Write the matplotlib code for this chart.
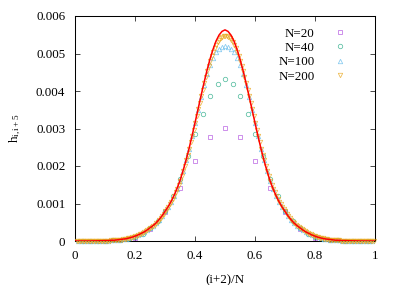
import numpy as np
import matplotlib
matplotlib.use("Agg")
import matplotlib.pyplot as plt

plt.rcParams['font.family'] = ['Liberation Serif', 'DejaVu Serif']
plt.rcParams['mathtext.fontset'] = 'custom'
plt.rcParams['mathtext.rm'] = 'Liberation Serif'
plt.rcParams['mathtext.it'] = 'Liberation Serif:italic'
plt.rcParams['mathtext.default'] = 'regular'

# ---- data ----
labels = ["N=20", "N=40", "N=100", "N=200"]
sizes = [20, 40, 100, 200]

h_n20 = [0.0, 0.00001, 0.00003, 0.00009, 0.00033, 0.00077, 0.00141, 0.00213, 0.00277, 0.00301,
         0.00277, 0.00213, 0.00141, 0.00077, 0.00033, 0.00009, 0.00003, 0.00001, 0.0]

h_n40 = [0.0, 0.0, 0.000005, 0.00001, 0.00002, 0.00003, 0.00006, 0.00011, 0.00020, 0.00034,
         0.00053, 0.00081, 0.00120, 0.00166, 0.00228, 0.00285, 0.00339, 0.00387, 0.00420, 0.00431,
         0.00420, 0.00387, 0.00339, 0.00285, 0.00228, 0.00166, 0.00120, 0.00081, 0.00053, 0.00034,
         0.00020, 0.00011, 0.00006, 0.00003, 0.00002, 0.00001, 0.000005, 0.0, 0.0]

h_n100 = [0, 0, 0, 0, 0, 0, 0, 0,
          0.00001, 0.00001, 0.00001, 0.00002, 0.00002, 0.00003, 0.00004, 0.00005, 0.00006, 0.00008,
          0.00010, 0.00013, 0.00016, 0.00020, 0.00024, 0.00029, 0.00035, 0.00041, 0.00048, 0.00057,
          0.00067, 0.00079, 0.00091, 0.00105, 0.00121, 0.00140, 0.00161, 0.00187, 0.00215, 0.00246,
          0.00280, 0.00314, 0.00349, 0.00384, 0.00416, 0.00445, 0.00470, 0.00489, 0.00503, 0.00512,
          0.00518, 0.00520,
          0.00518, 0.00512, 0.00503, 0.00489, 0.00470, 0.00445, 0.00416, 0.00384, 0.00349, 0.00314,
          0.00280, 0.00246, 0.00215, 0.00187, 0.00161, 0.00140, 0.00121, 0.00105, 0.00091, 0.00079,
          0.00067, 0.00057, 0.00048, 0.00041, 0.00035, 0.00029, 0.00024, 0.00020, 0.00016, 0.00013,
          0.00010, 0.00008, 0.00006, 0.00005, 0.00004, 0.00003, 0.00002, 0.00002, 0.00001, 0.00001,
          0.00001, 0, 0, 0, 0, 0, 0, 0, 0]

h_n200 = [0, 0, 0, 0, 0, 0, 0, 0, 0, 0, 0, 0, 0, 0, 0, 0, 0, 0, 0,
          0.00001, 0.00001, 0.00001, 0.00001, 0.00002, 0.00002, 0.00002, 0.00002, 0.00003, 0.00003,
          0.00004, 0.00004, 0.00005, 0.00005, 0.00006, 0.00007, 0.00008, 0.00009, 0.00010, 0.00011,
          0.00013, 0.00014, 0.00016, 0.00018, 0.00020, 0.00022, 0.00024, 0.00026, 0.00029, 0.00032,
          0.00035, 0.00038, 0.00041, 0.00044, 0.00048, 0.00052, 0.00057, 0.00062, 0.00067, 0.00073,
          0.00079, 0.00085, 0.00091, 0.00098, 0.00105, 0.00113, 0.00121, 0.00130, 0.00140, 0.00150,
          0.00161, 0.00174, 0.00187, 0.00201, 0.00215, 0.00230, 0.00246, 0.00263, 0.00280, 0.00297,
          0.00315, 0.00333, 0.00351, 0.00369, 0.00387, 0.00404, 0.00421, 0.00437, 0.00453, 0.00468,
          0.00481, 0.00494, 0.00504, 0.00515, 0.00523, 0.00531, 0.00536, 0.00541, 0.00544, 0.00546,
          0.00547,
          0.00546, 0.00544, 0.00541, 0.00536, 0.00531, 0.00523, 0.00515, 0.00504, 0.00494, 0.00481,
          0.00468, 0.00453, 0.00437, 0.00421, 0.00404, 0.00387, 0.00369, 0.00351, 0.00333, 0.00315,
          0.00297, 0.00280, 0.00263, 0.00246, 0.00230, 0.00215, 0.00201, 0.00187, 0.00174, 0.00161,
          0.00150, 0.00140, 0.00130, 0.00121, 0.00113, 0.00105, 0.00098, 0.00091, 0.00085, 0.00079,
          0.00073, 0.00067, 0.00062, 0.00057, 0.00052, 0.00048, 0.00044, 0.00041, 0.00038, 0.00035,
          0.00032, 0.00029, 0.00026, 0.00024, 0.00022, 0.00020, 0.00018, 0.00016, 0.00014, 0.00013,
          0.00011, 0.00010, 0.00009, 0.00008, 0.00007, 0.00006, 0.00005, 0.00005, 0.00004, 0.00004,
          0.00003, 0.00003, 0.00002, 0.00002, 0.00002, 0.00002, 0.00001, 0.00001, 0.00001, 0.00001,
          0, 0, 0, 0, 0, 0, 0, 0, 0, 0, 0, 0, 0, 0, 0, 0, 0, 0, 0]

# limiting curve (red line), sampled at x = 0.00, 0.01, ..., 1.00
limit_x = [round(0.01 * k, 2) for k in range(101)]
limit_h = [0, 0, 0, 0, 0, 0, 0.000003, 0.000004, 0.000006, 0.000008,
           0.00001, 0.00001, 0.00002, 0.00002, 0.00003, 0.00004, 0.00005, 0.00006, 0.00008, 0.00010,
           0.00013, 0.00016, 0.00020, 0.00024, 0.00029, 0.00035, 0.00041, 0.00048, 0.00057, 0.00067,
           0.00079, 0.00091, 0.00105, 0.00121, 0.00140, 0.00161, 0.00187, 0.00215, 0.00246, 0.00280,
           0.00315, 0.00351, 0.00387, 0.00422, 0.00455, 0.00485, 0.00511, 0.00533, 0.00549, 0.00559,
           0.00563,
           0.00559, 0.00549, 0.00533, 0.00511, 0.00485, 0.00455, 0.00422, 0.00387, 0.00351, 0.00315,
           0.00280, 0.00246, 0.00215, 0.00187, 0.00161, 0.00140, 0.00121, 0.00105, 0.00091, 0.00079,
           0.00067, 0.00057, 0.00048, 0.00041, 0.00035, 0.00029, 0.00024, 0.00020, 0.00016, 0.00013,
           0.00010, 0.00008, 0.00006, 0.00005, 0.00004, 0.00003, 0.00002, 0.00002, 0.00001, 0.00001,
           0.000008, 0.000006, 0.000004, 0.000003, 0, 0, 0, 0, 0, 0]

xticks = [0, 0.2, 0.4, 0.6, 0.8, 1]
xtick_labels = ["0", "0.2", "0.4", "0.6", "0.8", "1"]
yticks = [0, 0.001, 0.002, 0.003, 0.004, 0.005, 0.006]
ytick_labels = ["0", "0.001", "0.002", "0.003", "0.004", "0.005", "0.006"]

series = [h_n20, h_n40, h_n100, h_n200]
colors = ["#b04ee0", "#2fae8a", "#68bdec", "#eaa820"]
markers = ["s", "o", "^", "v"]

FS = 9.4

fig = plt.figure(figsize=(4.07, 2.85), dpi=100)
ax = fig.add_axes([75 / 407, 44 / 285, 300 / 407, 225 / 285])

for n, h, c, m, lab in zip(sizes, series, colors, markers, labels):
    x = [(k + 1) / n for k in range(len(h))]
    ax.plot(x, h, linestyle="none", marker=m, markersize=3.2, markerfacecolor="none",
            markeredgecolor=c, markeredgewidth=0.55, alpha=0.8, label=lab, clip_on=False, zorder=3)

ax.plot(limit_x, limit_h, color="#ff0000", linewidth=1.1, zorder=4)

ax.set_xlim(0, 1)
ax.set_ylim(0, 0.006)
ax.set_xticks(xticks)
ax.set_xticklabels(xtick_labels)
ax.set_yticks(yticks)
ax.set_yticklabels(ytick_labels)
ax.tick_params(direction="in", length=3.5, width=0.5, top=True, right=True,
               labelsize=FS, colors="black")
ax.tick_params(axis="x", pad=6.5)
ax.tick_params(axis="y", pad=7)
for s in ax.spines.values():
    s.set_linewidth(0.75)

ax.set_xlabel("(i+2)/N", fontsize=FS, labelpad=8.5)
ax.set_ylabel(r"h$_{i,i+5}$", fontsize=FS, labelpad=9)

leg = ax.legend(loc="upper right", bbox_to_anchor=(0.923, 0.972), frameon=False, markerfirst=False,
                fontsize=FS, handlelength=1.0, handletextpad=1.45, labelspacing=0.17,
                borderaxespad=0.0)

fig.savefig("out.png", dpi=100)
